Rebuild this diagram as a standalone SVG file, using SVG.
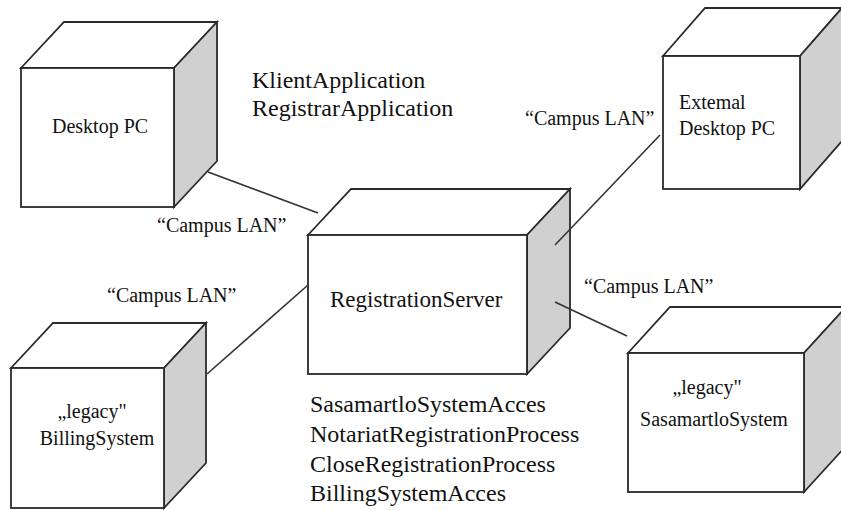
<svg xmlns="http://www.w3.org/2000/svg" width="841" height="510" viewBox="0 0 841 510">
<style>
.f{fill:#fff;stroke:#2a2a2a;stroke-width:1.8;stroke-linejoin:miter}
.s{fill:#d0d0d0;stroke:#2a2a2a;stroke-width:1.8}
.c{stroke:#333;stroke-width:1.6;fill:none}
text{font-family:"Liberation Serif","Times New Roman",serif;fill:#111}
.t20{font-size:20px}
.t23{font-size:23px}
.t24{font-size:24px}
</style>
<rect width="841" height="510" fill="#fff"/>
<g id="desktop-pc">
<polygon class="f" points="21,68 64,22 217,22 174,68"/>
<polygon class="s" points="174,68 217,22 217,161 174,207"/>
<rect class="f" x="21" y="68" width="153" height="139"/>
<text class="t20" x="52" y="133">Desktop PC</text>
</g>
<g id="registration-server">
<polygon class="f" points="308,235 351,189 570,189 527,235"/>
<polygon class="s" points="527,235 570,189 570,328 527,374"/>
<rect class="f" x="308" y="235" width="219" height="139"/>
<text class="t23" x="330" y="307">RegistrationServer</text>
</g>
<g id="external-desktop-pc">
<polygon class="f" points="663,56 705,8 842,8 800,56"/>
<polygon class="s" points="800,56 842,8 842,141 800,189"/>
<rect class="f" x="663" y="56" width="137" height="133"/>
<text class="t20" x="679" y="109">Extemal</text>
<text class="t20" x="679" y="135">Desktop PC</text>
</g>
<g id="billing-system">
<polygon class="f" points="11,368 53,323 206,323 164,368"/>
<polygon class="s" points="164,368 206,323 206,463 164,508"/>
<rect class="f" x="11" y="368" width="153" height="140"/>
<text class="t20" x="92" y="418" text-anchor="middle">„legacy"</text>
<text class="t20" x="97" y="445" text-anchor="middle">BillingSystem</text>
</g>
<g id="sasamartlo-system">
<polygon class="f" points="628,353 670,307 846,307 804,353"/>
<polygon class="s" points="804,353 846,307 846,446 804,492"/>
<rect class="f" x="628" y="353" width="176" height="139"/>
<text class="t20" x="707" y="394" text-anchor="middle">„legacy"</text>
<text class="t20" x="714" y="426" text-anchor="middle">SasamartloSystem</text>
</g>
<g id="connectors">
<line class="c" x1="208" y1="172" x2="318" y2="213"/>
<line class="c" x1="207" y1="374" x2="308" y2="285"/>
<line class="c" x1="660" y1="135" x2="555" y2="245"/>
<line class="c" x1="555" y1="302" x2="627" y2="336"/>
</g>
<g id="labels">
<text class="t20" x="157" y="232">“Campus LAN”</text>
<text class="t20" x="107" y="302">“Campus LAN”</text>
<text class="t20" x="525" y="125">“Campus LAN”</text>
<text class="t20" x="584" y="293">“Campus LAN”</text>
<text class="t24" x="252" y="88">KlientApplication</text>
<text class="t24" x="252" y="116">RegistrarApplication</text>
<text class="t24" x="310" y="412">SasamartloSystemAcces</text>
<text class="t24" x="310" y="442">NotariatRegistrationProcess</text>
<text class="t24" x="310" y="472">CloseRegistrationProcess</text>
<text class="t24" x="310" y="501">BillingSystemAcces</text>
</g>
</svg>
